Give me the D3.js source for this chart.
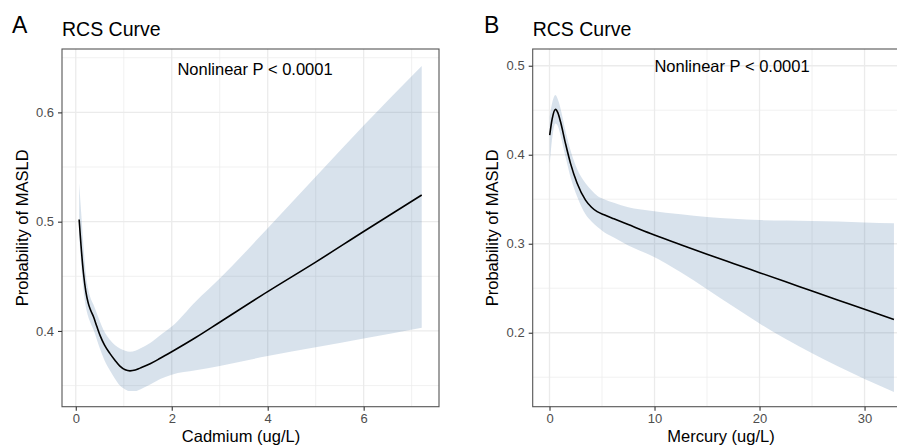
<!DOCTYPE html>
<html>
<head>
<meta charset="utf-8">
<script src="https://cdn.jsdelivr.net/npm/d3@7"></script>
<style>
	body { margin: 0; background: #fff; }
	text { font-family: "Liberation Sans", Arial, sans-serif; }
</style>
</head>
<body>
<div id="chart"></div>
<script>
// panel A - cadmium
var cdX     = [0.07, 0.11, 0.16, 0.21, 0.26, 0.31, 0.37, 0.44, 0.51, 0.60, 0.71, 0.82, 0.92, 1.03, 1.13, 1.24, 1.34, 1.55, 1.76, 2.0, 2.5, 3.0, 4.0, 5.0, 6.0, 7.21];
var cdFit   = [0.502, 0.478, 0.453, 0.436, 0.4255, 0.419, 0.413, 0.404, 0.3955, 0.387, 0.3795, 0.373, 0.3678, 0.3645, 0.3635, 0.3642, 0.366, 0.370, 0.375, 0.381, 0.394, 0.408, 0.436, 0.463, 0.491, 0.5244];
var cdUpper = [0.535, 0.51, 0.478, 0.452, 0.438, 0.43, 0.424, 0.416, 0.408, 0.399, 0.392, 0.387, 0.384, 0.382, 0.381, 0.382, 0.384, 0.389, 0.396, 0.404, 0.427, 0.448, 0.494, 0.541, 0.588, 0.6425];
var cdLower = [0.488, 0.462, 0.438, 0.422, 0.413, 0.407, 0.401, 0.392, 0.383, 0.373, 0.364, 0.356, 0.350, 0.3465, 0.345, 0.345, 0.3465, 0.351, 0.356, 0.360, 0.364, 0.368, 0.377, 0.385, 0.393, 0.403];
var cdXTicks = [0, 2, 4, 6];
var cdYTicks = [0.4, 0.5, 0.6];

// panel B - mercury
var hgX     = [0.02, 0.25, 0.57, 0.8, 1.05, 1.52, 2.0, 2.63, 3.43, 4.0, 4.54, 5.2, 6.13, 7.5, 9.62, 12.5, 15, 17.5, 20, 22.5, 25, 27.5, 30, 32.8];
var hgFit   = [0.422, 0.440, 0.451, 0.447, 0.437, 0.4128, 0.3903, 0.3679, 0.349, 0.341, 0.336, 0.3325, 0.328, 0.3215, 0.3115, 0.299, 0.2882, 0.2778, 0.2675, 0.2572, 0.2469, 0.2366, 0.2263, 0.2148];
var hgUpper = [0.443, 0.458, 0.467, 0.462, 0.452, 0.427, 0.405, 0.384, 0.368, 0.360, 0.354, 0.350, 0.346, 0.341, 0.337, 0.333, 0.330, 0.328, 0.3266, 0.326, 0.3255, 0.325, 0.324, 0.323];
var hgLower = [0.39, 0.418, 0.435, 0.432, 0.422, 0.398, 0.375, 0.353, 0.333, 0.325, 0.319, 0.313, 0.307, 0.298, 0.287, 0.268, 0.249, 0.2295, 0.2105, 0.193, 0.177, 0.162, 0.148, 0.1335];
var hgXTicks = [0, 10, 20, 30];
var hgYTicks = [0.2, 0.3, 0.4, 0.5];

var svg = d3.select('#chart').append('svg')
	.attr('width', 897)
	.attr('height', 448);

function drawPanel(p) {
	var x = d3.scaleLinear().domain(p.xDomain).range([p.left, p.right]);
	var y = d3.scaleLinear().domain(p.yDomain).range([p.bottom, p.top]);
	var g = svg.append('g');

	g.append('clipPath').attr('id', p.id + 'clip')
		.append('rect')
		.attr('x', p.left).attr('y', p.top)
		.attr('width', p.right - p.left).attr('height', p.bottom - p.top);

	// minor grid
	g.selectAll('.vminor').data(p.xMinor).enter().append('line')
		.attr('x1', function(d){ return x(d); }).attr('x2', function(d){ return x(d); })
		.attr('y1', p.top).attr('y2', p.bottom)
		.style('stroke', '#ebebeb').style('stroke-width', 0.7);
	g.selectAll('.hminor').data(p.yMinor).enter().append('line')
		.attr('y1', function(d){ return y(d); }).attr('y2', function(d){ return y(d); })
		.attr('x1', p.left).attr('x2', p.right)
		.style('stroke', '#ebebeb').style('stroke-width', 0.7);
	// major grid
	g.selectAll('.vmajor').data(p.xTicks).enter().append('line')
		.attr('x1', function(d){ return x(d); }).attr('x2', function(d){ return x(d); })
		.attr('y1', p.top).attr('y2', p.bottom)
		.style('stroke', '#ebebeb').style('stroke-width', 1.3);
	g.selectAll('.hmajor').data(p.yTicks).enter().append('line')
		.attr('y1', function(d){ return y(d); }).attr('y2', function(d){ return y(d); })
		.attr('x1', p.left).attr('x2', p.right)
		.style('stroke', '#ebebeb').style('stroke-width', 1.3);

	var rows = p.xs.map(function(v, i){
		return { x: v, fit: p.fit[i], lo: p.lower[i], hi: p.upper[i] };
	});

	var area = d3.area()
		.x(function(d){ return x(d.x); })
		.y0(function(d){ return y(d.lo); })
		.y1(function(d){ return y(d.hi); })
		.curve(d3.curveMonotoneX);
	var line = d3.line()
		.x(function(d){ return x(d.x); })
		.y(function(d){ return y(d.fit); })
		.curve(d3.curveMonotoneX);

	var plot = g.append('g').attr('clip-path', 'url(#' + p.id + 'clip)');
	plot.append('path').datum(rows)
		.attr('d', area)
		.style('fill', '#3d6d9e').style('fill-opacity', 0.2);
	plot.append('path').datum(rows)
		.attr('d', line)
		.style('fill', 'none').style('stroke', '#000').style('stroke-width', 1.6);

	// border
	g.append('rect')
		.attr('x', p.left).attr('y', p.top)
		.attr('width', p.right - p.left).attr('height', p.bottom - p.top)
		.style('fill', 'none').style('stroke', '#555').style('stroke-width', 1.1);

	// axes
	var xAxis = g.append('g').attr('transform', 'translate(0,' + p.bottom + ')')
		.call(d3.axisBottom(x).tickValues(p.xTicks).tickSize(4).tickPadding(4).tickFormat(d3.format('d')));
	var yAxis = g.append('g').attr('transform', 'translate(' + p.left + ',0)')
		.call(d3.axisLeft(y).tickValues(p.yTicks).tickSize(4).tickPadding(4).tickFormat(d3.format('.1f')));
	[xAxis, yAxis].forEach(function(a){
		a.select('.domain').remove();
		a.selectAll('line').style('stroke', '#333').style('stroke-width', 1.1);
		a.selectAll('text').style('fill', '#4d4d4d').style('font-size', '13px')
			.style('font-family', '"Liberation Sans", Arial, sans-serif');
	});
	xAxis.selectAll('text').attr('dy', '0.75em').attr('y', 7);

	// labels
	g.append('text').attr('x', p.tagX).attr('y', 33)
		.style('font-size', '23px').text(p.tag);
	g.append('text').attr('x', p.left).attr('y', 36)
		.style('font-size', '19.5px').text('RCS Curve');
	g.append('text').attr('x', p.noteX).attr('y', p.noteY)
		.attr('text-anchor', 'middle').style('font-size', '16.5px')
		.text('Nonlinear P < 0.0001');
	g.append('text').attr('x', p.xTitleX).attr('y', 442)
		.attr('text-anchor', 'middle').style('font-size', '16.5px')
		.text(p.xTitle);
	g.append('text')
		.attr('transform', 'translate(' + (p.left - 34.5) + ',' + ((p.top + p.bottom) / 2) + ') rotate(-90)')
		.attr('text-anchor', 'middle').style('font-size', '16.5px')
		.text('Probability of MASLD');
}

drawPanel({
	id: 'a', tag: 'A', tagX: 12,
	left: 62, right: 439, top: 49, bottom: 406.7,
	xDomain: [-0.287, 7.57], yDomain: [0.3307, 0.658],
	xTicks: cdXTicks, yTicks: cdYTicks,
	xMinor: [1, 3, 5, 7], yMinor: [0.35, 0.45, 0.55, 0.65],
	xs: cdX, fit: cdFit, upper: cdUpper, lower: cdLower,
	noteX: 255, noteY: 75,
	xTitle: 'Cadmium (ug/L)', xTitleX: 241
});

drawPanel({
	id: 'b', tag: 'B', tagX: 484,
	left: 532.7, right: 909.7, top: 49, bottom: 406.7,
	xDomain: [-1.6, 34.3], yDomain: [0.1169, 0.5188],
	xTicks: hgXTicks, yTicks: hgYTicks,
	xMinor: [5, 15, 25], yMinor: [0.15, 0.25, 0.35, 0.45],
	xs: hgX, fit: hgFit, upper: hgUpper, lower: hgLower,
	noteX: 732, noteY: 72,
	xTitle: 'Mercury (ug/L)', xTitleX: 721
});
</script>
</body>
</html>
